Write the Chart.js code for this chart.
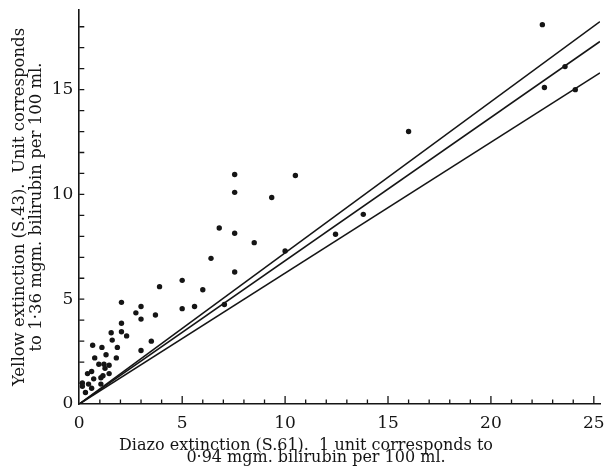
<!DOCTYPE html>
<html>
<head>
<meta charset="utf-8">
<script src="https://cdn.jsdelivr.net/npm/chart.js@4"></script>
<style>
  html, body { margin: 0; padding: 0; background: #fff; }
  #wrap { width: 604px; height: 468px; }
</style>
</head>
<body>
<div id="wrap"><canvas id="plot" width="604" height="468"></canvas></div>
<script>
// Diazo extinction (x) vs yellow extinction (y)
const diazo = [22.5, 22.6, 23.6, 24.1, 16.0, 10.5, 7.55, 7.55, 9.35, 6.8,
    7.55, 8.5, 10.0, 6.4, 7.55, 12.45, 13.8, 3.9, 5.0, 6.0,
    3.7, 5.0, 5.6, 7.05, 2.05, 3.0, 2.75, 3.0, 1.55, 2.05,
    2.05, 2.3, 3.5, 3.0, 1.6, 1.85, 1.8, 1.1, 0.65, 1.3,
    0.75, 0.95, 1.2, 1.45, 1.25, 0.6, 0.4, 0.7, 1.05, 1.15,
    1.45, 0.15, 0.45, 0.6, 1.05, 0.3, 0.15];
const yellow = [18.1, 15.1, 16.1, 15.0, 13.0, 10.9, 10.95, 10.1, 9.85, 8.4,
    8.15, 7.7, 7.3, 6.95, 6.3, 8.1, 9.05, 5.6, 5.9, 5.45,
    4.25, 4.55, 4.65, 4.75, 4.85, 4.65, 4.35, 4.05, 3.4, 3.85,
    3.45, 3.25, 3.0, 2.55, 3.05, 2.7, 2.2, 2.7, 2.8, 2.35,
    2.2, 1.9, 1.9, 1.85, 1.7, 1.55, 1.45, 1.2, 1.25, 1.35,
    1.45, 1.0, 0.95, 0.75, 0.95, 0.55, 0.85];

// three straight lines through the origin, drawn out to x = 25.3
const lineX = [0, 25.3];
const lineEnds = [18.25, 17.3, 15.8];

const xTicks = [0, 5, 10, 15, 20, 25];
const yTicks = [0, 5, 10, 15];

const xTitle = ['Diazo extinction (S.61).  1 unit corresponds to', '0\u00b794 mgm. bilirubin per 100 ml.'];
const yTitle = ['Yellow extinction (S.43).  Unit corresponds', 'to 1\u00b736 mgm. bilirubin per 100 ml.'];

const ink = '#151515';
const serif = '"DejaVu Serif", "Liberation Serif", serif';

const points = diazo.map((x, i) => ({ x: x, y: yellow[i] }));

const datasets = [{
    type: 'scatter',
    data: points,
    backgroundColor: ink,
    borderColor: ink,
    pointRadius: 2.7,
    pointBorderWidth: 0
}];
lineEnds.forEach(end => {
    datasets.push({
        type: 'line',
        data: lineX.map((x, i) => ({ x: x, y: i === 0 ? 0 : end })),
        borderColor: ink,
        borderWidth: 1.6,
        pointRadius: 0,
        fill: false
    });
});

// inward tick marks like the printed figure, plus the x caption
// (the printed caption sits left of the axis centre)
const decorations = {
    id: 'decorations',
    afterDraw(chart) {
        const { ctx, chartArea, scales } = chart;
        ctx.save();
        ctx.strokeStyle = ink;
        ctx.lineWidth = 1.3;
        ctx.beginPath();
        for (let i = 1; i <= 25; i++) {
            const px = scales.x.getPixelForValue(i);
            const len = i % 5 === 0 ? 8 : 4.5;
            ctx.moveTo(px, chartArea.bottom);
            ctx.lineTo(px, chartArea.bottom - len);
        }
        for (let i = 1; i <= 18; i++) {
            const py = scales.y.getPixelForValue(i);
            ctx.moveTo(chartArea.left, py);
            ctx.lineTo(chartArea.left + 5, py);
        }
        ctx.stroke();

        ctx.fillStyle = ink;
        ctx.font = '16px ' + serif;
        ctx.textAlign = 'center';
        ctx.textBaseline = 'alphabetic';
        ctx.fillText(xTitle[0], 306, 450);
        ctx.fillText(xTitle[1], 316, 462);
        ctx.restore();
    }
};

new Chart(document.getElementById('plot'), {
    data: { datasets: datasets },
    plugins: [decorations],
    options: {
        responsive: false,
        animation: false,
        layout: { padding: { top: 10, right: 3, left: 11, bottom: 25 } },
        plugins: { legend: { display: false }, tooltip: { enabled: false } },
        scales: {
            x: {
                type: 'linear',
                min: 0,
                max: 25.3,
                afterBuildTicks: s => { s.ticks = xTicks.map(v => ({ value: v })); },
                afterFit: s => { s.paddingRight = 0; },
                grid: { display: true, drawOnChartArea: false, drawTicks: false },
                border: { display: true, color: ink, width: 1.6 },
                ticks: { color: ink, padding: 11, maxRotation: 0, font: { family: serif, size: 17, lineHeight: 1 } },
                title: { display: false }
            },
            y: {
                type: 'linear',
                min: 0,
                max: 18.8,
                afterBuildTicks: s => { s.ticks = yTicks.map(v => ({ value: v })); },
                afterFit: s => { s.paddingTop = 0; },
                grid: { display: true, drawOnChartArea: false, drawTicks: false },
                border: { display: true, color: ink, width: 1.6 },
                ticks: { color: ink, padding: 6, font: { family: serif, size: 17 } },
                title: {
                    display: true,
                    text: yTitle,
                    color: ink,
                    padding: { top: 0, bottom: 0 },
                    font: { family: serif, size: 16.5, lineHeight: 1.05 }
                }
            }
        }
    }
});
</script>
</body>
</html>
